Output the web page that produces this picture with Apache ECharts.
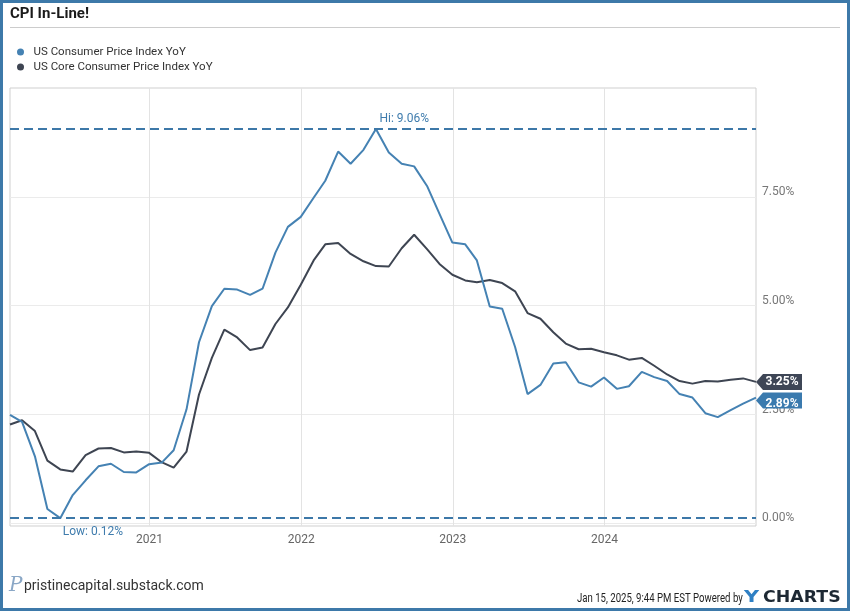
<!DOCTYPE html>
<html><head><meta charset="utf-8">
<script src="https://cdn.jsdelivr.net/npm/echarts@6/dist/echarts.min.js"></script>
<style>html,body{margin:0;padding:0;background:#fff}#c{width:850px;height:611px}</style>
</head><body><div id="c"></div>
<script>
const months = ['2020-01','2020-02','2020-03','2020-04','2020-05','2020-06','2020-07','2020-08','2020-09','2020-10','2020-11','2020-12',
'2021-01','2021-02','2021-03','2021-04','2021-05','2021-06','2021-07','2021-08','2021-09','2021-10','2021-11','2021-12',
'2022-01','2022-02','2022-03','2022-04','2022-05','2022-06','2022-07','2022-08','2022-09','2022-10','2022-11','2022-12',
'2023-01','2023-02','2023-03','2023-04','2023-05','2023-06','2023-07','2023-08','2023-09','2023-10','2023-11','2023-12',
'2024-01','2024-02','2024-03','2024-04','2024-05','2024-06','2024-07','2024-08','2024-09','2024-10','2024-11','2024-12'];
const cpi = [2.49,2.33,1.54,0.33,0.12,0.65,0.99,1.31,1.37,1.18,1.17,1.36,
1.40,1.68,2.62,4.16,4.99,5.39,5.37,5.25,5.39,6.22,6.81,7.04,
7.48,7.87,8.54,8.26,8.58,9.06,8.52,8.26,8.20,7.75,7.11,6.45,
6.41,6.04,4.98,4.93,4.05,2.97,3.18,3.67,3.70,3.24,3.14,3.35,
3.09,3.15,3.48,3.36,3.27,2.97,2.89,2.53,2.44,2.60,2.75,2.89];
const core = [2.27,2.37,2.12,1.44,1.24,1.19,1.57,1.72,1.73,1.63,1.65,1.62,
1.40,1.28,1.65,2.96,3.80,4.45,4.27,3.98,4.04,4.58,4.96,5.48,
6.04,6.41,6.44,6.19,6.02,5.91,5.90,6.32,6.63,6.30,5.96,5.71,
5.58,5.54,5.59,5.52,5.33,4.83,4.70,4.39,4.13,4.00,4.01,3.93,
3.86,3.76,3.80,3.62,3.42,3.27,3.21,3.27,3.26,3.30,3.33,3.25];
const yTicks = [0, 2.5, 5, 7.5];
const xTickYears = [2021, 2022, 2023, 2024];
const names = ['US Consumer Price Index YoY', 'US Core Consumer Price Index YoY'];
const colors = ['#4582b3', '#3e4552'];

function monthEnd(s){ const p = s.split('-').map(Number); return Date.UTC(p[0], p[1], 0); }
const xs = months.map(monthEnd);
const cpiData = xs.map((x,i)=>[x, cpi[i]]);
const coreData = xs.map((x,i)=>[x, core[i]]);
const yearTs = xTickYears.map(y=>Date.UTC(y,0,1));
const lastX = xs[xs.length-1];

const tagPath = 'path://M0,8L7,0L46,0L46,16L7,16Z';
function tag(val, color, dy){
  return {coord:[lastX, val], value: val, symbol: tagPath, symbolSize:[46,16], symbolKeepAspect:false,
    symbolOffset:[23, dy], itemStyle:{color: color},
    label:{show:true, position:'inside', offset:[3, dy], color:'#fff', fontWeight:'bold', fontSize:12,
      fontFamily:'Roboto', formatter: v => v.value.toFixed(2)+'%'}};
}

const chart = echarts.init(document.getElementById('c'), null, {renderer:'canvas'});
chart.setOption({
  animation:false,
  backgroundColor:'#fff',
  textStyle:{fontFamily:'Roboto'},
  title:{text:'CPI In-Line!', left:5, top:2, textStyle:{fontSize:15, fontWeight:'bold', color:'#1a1a1a', fontFamily:'Roboto'}},
  legend:{orient:'vertical', left:12, top:40, icon:'circle', itemWidth:16, itemHeight:7, itemGap:1,
    data:names, textStyle:{fontSize:11.5, color:'#333', lineHeight:14}, selectedMode:false},
  grid:{left:10, right:94, top:88, bottom:85, show:true, borderColor:'#cfcfcf', borderWidth:1, containLabel:false},
  xAxis:{type:'value', min:xs[0], max:lastX,
    axisLine:{show:false}, axisTick:{show:false, customValues:yearTs},
    axisLabel:{customValues:yearTs, formatter:v=>String(new Date(v).getUTCFullYear()), color:'#666', fontSize:12, margin:8},
    splitLine:{show:true, lineStyle:{color:'#e3e3e3', width:1}}},
  yAxis:{type:'value', position:'right', min:-0.06, max:10,
    axisLine:{show:false}, axisTick:{show:false, customValues:yTicks},
    axisLabel:{customValues:yTicks, formatter:v=>v.toFixed(2)+'%', color:'#777', fontSize:12, margin:6, verticalAlign:'bottom', lineHeight:10},
    splitLine:{show:true, lineStyle:{color:'#ebebeb', width:1}}},
  series:[
    {name:names[1], type:'line', data:coreData, symbol:'none', lineStyle:{width:2, color:colors[1]}, itemStyle:{color:colors[1]},
      emphasis:{disabled:true}, z:2,
      markPoint:{silent:true, data:[tag(core[core.length-1], '#3e4656', 0)]}},
    {name:names[0], type:'line', data:cpiData, symbol:'none', lineStyle:{width:2, color:colors[0]}, itemStyle:{color:colors[0]},
      emphasis:{disabled:true}, z:3,
      markLine:{silent:true, symbol:['none','none'], label:{show:false},
        lineStyle:{color:'#3d78a8', width:2, type:[9,5]},
        data:[{type:'max', valueIndex:1}, {type:'min', valueIndex:1}]},
      markPoint:{silent:true, data:[
        {type:'max', valueIndex:1, symbol:'circle', symbolSize:1, itemStyle:{color:'rgba(0,0,0,0)'},
          label:{show:true, position:'right', offset:[-2,-10], color:'#3f7cad', fontSize:12, formatter:p=>'Hi: '+p.value.toFixed(2)+'%'}},
        {type:'min', valueIndex:1, symbol:'circle', symbolSize:1, itemStyle:{color:'rgba(0,0,0,0)'},
          label:{show:true, position:'right', offset:[-3,14], color:'#3f7cad', fontSize:12, formatter:p=>'Low: '+p.value.toFixed(2)+'%'}},
        tag(cpi[cpi.length-1], '#3a7aae', 3)
      ]}}
  ],
  graphic:[
    {type:'rect', silent:true, z:100, shape:{x:1.5, y:1.5, width:847, height:608}, style:{fill:'none', stroke:'#3d79a9', lineWidth:3}},
    {type:'line', silent:true, shape:{x1:10, y1:27.5, x2:840, y2:27.5}, style:{stroke:'#cccccc', lineWidth:1}},
    {type:'text', silent:true, x:9, y:586, style:{text:'P', font:'italic 20px "DejaVu Serif"', fill:'#8aa7c6', textVerticalAlign:'middle'}},
    {type:'text', silent:true, x:24, y:586, style:{text:'pristinecapital.substack.com', font:'14px Roboto', fill:'#333', textVerticalAlign:'middle'}},
    {type:'text', silent:true, x:577, y:599, scaleX:0.8, originX:0, style:{text:'Jan 15, 2025, 9:44 PM EST Powered by', font:'12px Roboto', fill:'#222', textVerticalAlign:'middle'}},
    {type:'text', silent:true, x:744, y:598, scaleX:1.3, originX:0, style:{text:'Y', font:'bold 16px "DejaVu Sans"', fill:'#2f80c4', textVerticalAlign:'middle'}},
    {type:'text', silent:true, x:763, y:598, scaleX:1.12, originX:0, style:{text:'CHARTS', font:'bold 15.5px "DejaVu Sans"', fill:'#1d2833', textVerticalAlign:'middle'}}
  ]
});
</script></body></html>
